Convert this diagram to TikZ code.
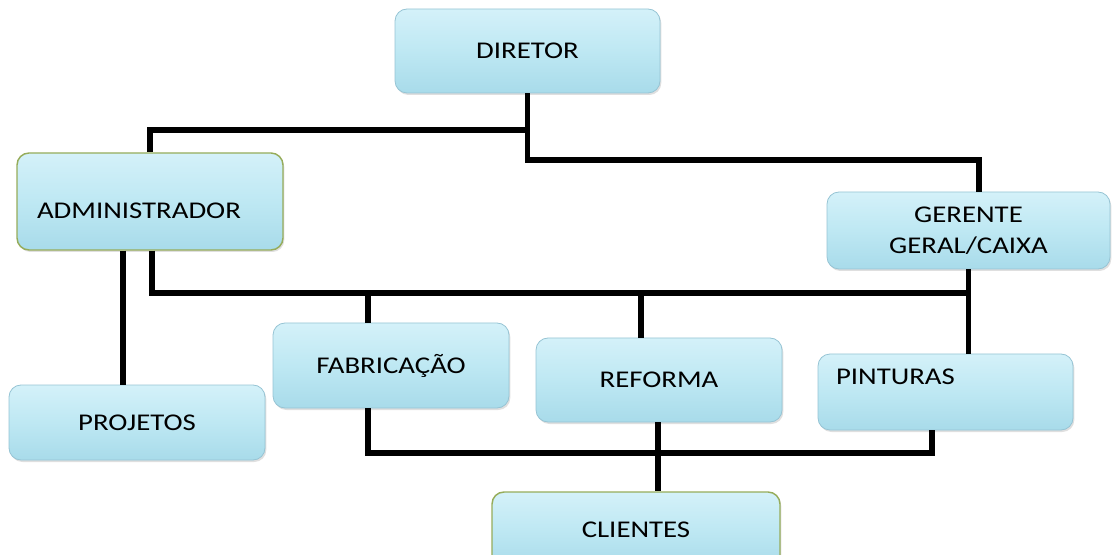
\documentclass[tikz,border=0pt]{standalone}
\usepackage{fontspec}
\setmainfont{Carlito}[FakeStretch=1.2]
\usetikzlibrary{calc,shadows}
\definecolor{boxtop}{RGB}{212,241,249}
\definecolor{boxmid}{RGB}{190,232,243}
\definecolor{boxbot}{RGB}{168,219,234}
\definecolor{boxedge}{RGB}{150,196,212}
\definecolor{olivedge}{RGB}{150,172,90}
\begin{document}
\begin{tikzpicture}[x=0.75pt,y=-0.75pt,
  box/.style={rounded corners=9pt, top color=boxtop, bottom color=boxbot, middle color=boxmid,
    draw=boxedge, line width=0.6pt, font=\fontsize{18}{23}\selectfont, align=center, inner sep=0pt,
    drop shadow={opacity=0.25, shadow xshift=1pt, shadow yshift=-1.5pt}},
  greenbox/.style={box, draw=olivedge, line width=1.1pt},
  wire/.style={line width=3.8pt, black, line join=miter}]
\useasboundingbox (0,0) rectangle (1112,555);

\node[box, minimum width=198.75pt, minimum height=63pt] (dir) at (527.5,51) {DIRETOR};
\node[greenbox, minimum width=199.5pt, minimum height=72.75pt, text width=169.5pt, align=left] (adm) at (150,201.5)
  {\raisebox{-6.75pt}[\height][\depth]{ADMINISTRADOR}};
\node[box, minimum width=212.25pt, minimum height=57.75pt] (ger) at (968.5,230.5) {GERENTE\\GERAL/CAIXA};
\node[box, minimum width=191.25pt, minimum height=57pt, text width=164.25pt, align=left] (pin) at (945.5,392)
  {\raisebox{11.25pt}[\height][\depth]{PINTURAS}};
\node[box, minimum width=177pt, minimum height=63.75pt] (fab) at (391,365.5) {FABRICAÇÃO};
\node[box, minimum width=184.5pt, minimum height=63pt] (ref) at (659,380) {REFORMA};
\node[box, minimum width=192pt, minimum height=56.25pt] (proj) at (137,422.5) {PROJETOS};
\node[greenbox, minimum width=216pt, minimum height=57pt] (cli) at (636,530) {CLIENTES};

\coordinate (jA) at (527.5,130);
\coordinate (jB) at (527.5,160);
\coordinate (busM) at (968.5,293);
\coordinate (busB) at (0,453);

\draw[wire] (dir.south) -- (jB) -| ($(ger.north)+(10.5,0)$);
\draw[wire] (jA) -| (adm.north);
\draw[wire] ($(adm.south)+(-27,0)$) coordinate (a1) -- (a1 |- proj.north);
\draw[wire] ($(adm.south)+(2,0)$) |- (busM);
\draw[wire] (ger.south) -- (pin.north -| ger.south);
\draw[wire] ($(fab.north)+(-23,0)$) coordinate (f1) -- (f1 |- busM);
\draw[wire] ($(ref.north)+(-18,0)$) coordinate (r1) -- (r1 |- busM);
\draw[wire] ($(fab.south)+(-23,0)$) coordinate (f2) -- (f2 |- busB) -| ($(pin.south)+(-13.5,0)$);
\draw[wire] ($(ref.south)+(-1,0)$) coordinate (r2) -- (r2 |- cli.north);
\end{tikzpicture}
\end{document}
